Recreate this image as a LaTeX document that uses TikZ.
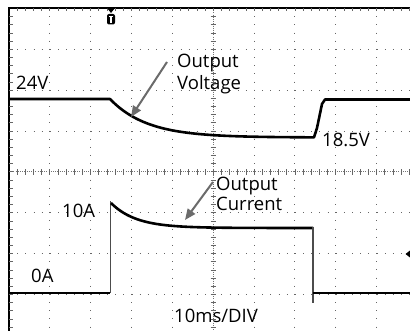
\documentclass[tikz,border=0pt]{standalone}
\usepackage{fontspec}
\setmainfont{Open Sans}
\usetikzlibrary{arrows.meta}
\begin{document}
\begin{tikzpicture}[x=1pt,y=-1pt,
  griddots/.style={black!60,line width=1pt,dash pattern=on 1pt off 7.17pt},
  axisdots/.style={black!55,line width=0.8pt,dash pattern=on 1pt off 1.2pt},
  tickmark/.style={black!60,line width=0.8pt},
  border/.style={black,line width=1.2pt},
  trace/.style={black,line width=2.6pt,line join=round},
  edgeline/.style={black!70,line width=1.1pt},
  lbl/.style={inner sep=0pt,font=\fontsize{18.5}{22}\selectfont,anchor=base west},
  pointer/.style={black!58,line width=2pt,-{Triangle[length=11pt,width=9pt]}}]
\useasboundingbox (0,0) rectangle (410,331);
\fill[white] (0,0) rectangle (410,331);
% dotted graticule
\foreach \i in {1,2,3,4,6,7,8,9}
  \draw[griddots] (9+\i*40.85,8) -- (9+\i*40.85,331);
\foreach \j in {1,2,3,5,6,7}
  \draw[griddots] (9,8.5+\j*40.85) -- (410,8.5+\j*40.85);
% centre axes
\draw[axisdots] (9,171.9) -- (410,171.9);
\draw[axisdots] (213.25,8) -- (213.25,331);
\foreach \k in {1,...,49}
  \draw[tickmark] (9+\k*8.17,169.2) -- (9+\k*8.17,174.6);
\foreach \k in {1,...,39}
  \draw[tickmark] (210.55,8.5+\k*8.17) -- (215.95,8.5+\k*8.17);
% border with ticks
\draw[border] (9,331) -- (9,8) -- (410,8);
\draw[black,line width=1.2pt] (9,8) -- (9,331);
\foreach \k in {1,...,49}
  \draw[tickmark] (9+\k*8.17,8) -- (9+\k*8.17,11.5);
\foreach \k in {1,...,39}
  \draw[tickmark] (9,8.5+\k*8.17) -- (12.5,8.5+\k*8.17);
% trigger marker
\fill[black] (107,8) -- (115,8) -- (111,13) -- cycle;
\fill[black,rounded corners=2pt] (107,14) rectangle (115,24.5);
\fill[white] (108.6,15.6) rectangle (113.4,17.2);
\fill[white] (110.3,17.2) rectangle (111.7,22.6);
% right marker
\fill[black] (405.5,254) -- (410,250.5) -- (410,257.5) -- cycle;
% voltage trace
\draw[trace] (9,99) -- (110,99) -- plot[domain=110:314,samples=80] (\x,{137.5-38.5*exp(-(\x-110)/37)})
  -- (317,128) -- (322,104) -- (325,99.5) -- (410,99.5);
% current trace
\draw[trace] (9,293) -- (110,293);
\draw[edgeline] (110.5,293) -- (110.5,201);
\draw[trace] plot[domain=111:313,samples=80] (\x,{228-25*exp(-(\x-111)/25)});
\draw[edgeline] (313,227) -- (313,303);
\draw[trace] (313,293) -- (410,293);
% labels
\node[lbl] (v24) at (16,90) {24V};
\node[lbl] (ov1) at (177,68) {Output};
\node[lbl] (ov2) at (177,90) {Voltage};
\node[lbl] (v185) at (322,147) {18.5V};
\node[lbl] (a10) at (62,218) {10A};
\node[lbl] (a0) at (31,283) {0A};
\node[lbl] (oc1) at (216,191) {Output};
\node[lbl] (oc2) at (216,211) {Current};
\node[lbl] (tdiv) at (174,323) {10ms/DIV};
% pointers
\coordinate (vs) at (167,62);
\coordinate (vt) at (131,117);
\coordinate (cs) at (213,182);
\coordinate (ct) at (185,220);
\draw[pointer] (vs) -- (vt);
\draw[pointer] (cs) -- (ct);
\end{tikzpicture}
\end{document}
